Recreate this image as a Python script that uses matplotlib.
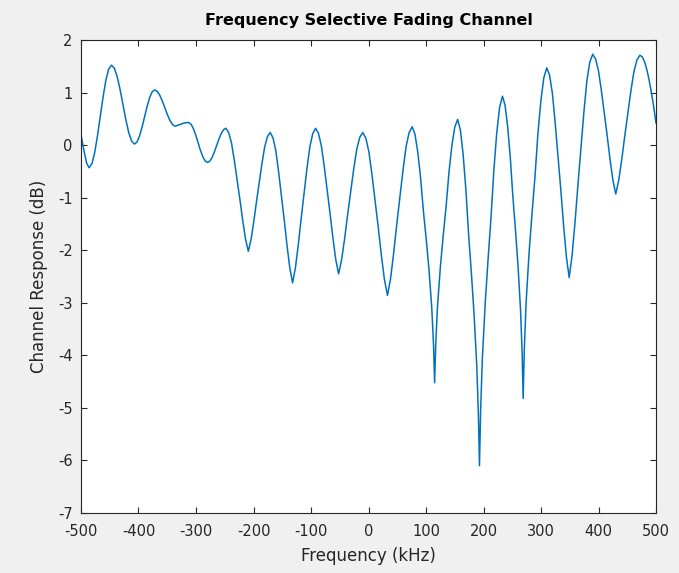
import matplotlib
matplotlib.use("Agg")
import matplotlib.pyplot as plt

freq_khz = [
    -500, -495, -490, -486,
    -481.1, -476.25, -471.4, -466.5, -461.6, -456.75, -451.9, -447,
    -442, -437, -432, -427, -422, -417, -412, -407,
    -402.6, -398.25, -393.9, -389.5, -385.1, -380.75, -376.4, -372,
    -367.5, -363, -358.5, -354, -349.5, -345, -340.5, -336,
    -330, -324.5, -319, -313,
    -308.9, -304.75, -300.6, -296.5, -292.4, -288.25, -284.1, -280,
    -276, -272, -268, -264, -260, -256, -252, -248,
    -243.1, -238.25, -233.4, -228.5, -223.6, -218.75, -213.9, -209,
    -204.25, -199.5, -194.75, -190, -185.25, -180.5, -175.75, -171,
    -166.1, -161.25, -156.4, -151.5, -146.6, -141.75, -136.9, -132,
    -127, -122, -117, -112, -107, -102, -97, -92,
    -87, -82, -77, -72, -67, -62, -57, -52,
    -46.75, -41.5, -36.25, -31, -25.75, -20.5, -15.25, -10,
    -4.6, 0.75, 6.1, 11.5, 16.9, 22.25, 27.6, 33,
    38.4, 43.75, 49.1, 54.5, 59.9, 65.25, 70.6, 76,
    80.9, 85.75, 90.6, 95.5, 100.4, 105.25, 110.1, 113.05, 115,
    117, 120, 125, 130, 135, 140, 145, 150, 155,
    159.75, 164.5, 169.25, 174, 178.75, 183.5, 188.25, 191.1, 193,
    195, 198, 203, 208, 213, 218, 223, 228, 233,
    237.5, 242, 246.5, 251, 255.5, 260, 264.5, 267.2, 269,
    271, 274.1, 279.25, 284.4, 289.5, 294.6, 299.75, 304.9, 310,
    314.9, 319.75, 324.6, 329.5, 334.4, 339.25, 344.1, 349,
    354.1, 359.25, 364.4, 369.5, 374.6, 379.75, 384.9, 390,
    395, 400, 405, 410, 415, 420, 425, 430,
    435.25, 440.5, 445.75, 451, 456.25, 461.5, 466.75, 472,
    476, 480, 484, 488, 492, 496, 500]
response_db = [
    0.2, -0.10, -0.35, -0.43,
    -0.356, -0.145, 0.173, 0.545, 0.917, 1.235, 1.446, 1.52,
    1.463, 1.301, 1.056, 0.77, 0.483, 0.239, 0.077, 0.02,
    0.059, 0.17, 0.338, 0.535, 0.732, 0.90, 1.011, 1.05,
    1.024, 0.949, 0.837, 0.705, 0.573, 0.461, 0.386, 0.36,
    0.385, 0.405, 0.425, 0.43,
    0.401, 0.319, 0.195, 0.05, -0.095, -0.219, -0.301, -0.33,
    -0.305, -0.235, -0.129, -0.005, 0.119, 0.225, 0.295, 0.32,
    0.238, 0.039, -0.288, -0.663, -1.037, -1.435, -1.786, -2.02,
    -1.794, -1.455, -1.071, -0.709, -0.348, -0.031, 0.161, 0.24,
    0.14, -0.103, -0.504, -0.961, -1.419, -1.905, -2.334, -2.62,
    -2.326, -1.885, -1.385, -0.915, -0.444, -0.033, 0.217, 0.32,
    0.223, -0.012, -0.40, -0.843, -1.287, -1.758, -2.173, -2.45,
    -2.181, -1.777, -1.32, -0.89, -0.459, -0.083, 0.146, 0.24,
    0.131, -0.132, -0.566, -1.062, -1.558, -2.085, -2.55, -2.86,
    -2.539, -2.057, -1.512, -0.998, -0.485, -0.035, 0.238, 0.35,
    0.204, -0.137, -0.624, -1.257, -1.793, -2.377, -3.108, -3.79, -4.52,
    -3.768, -3.067, -2.316, -1.714, -1.163, -0.512, -0.011, 0.34, 0.49,
    0.292, -0.169, -0.828, -1.685, -2.41, -3.20, -4.189, -5.11, -6.1,
    -5.045, -4.061, -3.007, -2.163, -1.39, -0.476, 0.227, 0.719, 0.93,
    0.757, 0.355, -0.22, -0.968, -1.60, -2.29, -3.153, -3.958, -4.82,
    -3.876, -2.996, -2.052, -1.298, -0.606, 0.212, 0.841, 1.281, 1.47,
    1.33, 0.991, 0.433, -0.206, -0.844, -1.523, -2.121, -2.52,
    -2.095, -1.457, -0.735, -0.055, 0.625, 1.22, 1.581, 1.73,
    1.637, 1.411, 1.038, 0.613, 0.187, -0.265, -0.664, -0.93,
    -0.666, -0.27, 0.179, 0.601, 1.024, 1.393, 1.618, 1.71,
    1.68, 1.59, 1.44, 1.24, 1.00, 0.73, 0.42]

x_ticks = [-500, -400, -300, -200, -100, 0, 100, 200, 300, 400, 500]
y_ticks = [-7, -6, -5, -4, -3, -2, -1, 0, 1, 2]

plt.rcParams['font.family'] = ['DejaVu Sans']
fig = plt.figure(figsize=(6.79, 5.73), dpi=100, facecolor='#f0f0f0')
ax = fig.add_axes([81/679, 60/573, 575/679, 473/573])
ax.set_facecolor('white')
ax.plot(freq_khz, response_db, color='#0072BD', linewidth=1.1)

ax.set_xlim(-500, 500)
ax.set_ylim(-7, 2)
ax.set_xticks(x_ticks)
ax.set_yticks(y_ticks)
ax.set_xticklabels([str(v) for v in x_ticks])
ax.set_yticklabels([str(v) for v in y_ticks])
ax.tick_params(direction='in', top=True, right=True, length=4, width=0.8,
               colors='#262626', labelsize=10.5)
ax.tick_params(axis='x', pad=8)
ax.tick_params(axis='y', pad=6)
for s in ax.spines.values():
    s.set_color('#262626')
    s.set_linewidth(0.8)

ax.set_xlabel('Frequency (kHz)', fontsize=12, color='#262626', labelpad=6)
ax.set_ylabel('Channel Response (dB)', fontsize=12, color='#262626', labelpad=7)
ax.set_title('Frequency Selective Fading Channel', fontsize=11.5,
             fontweight='bold', color='black', pad=11)

fig.savefig('out.png', dpi=100, facecolor=fig.get_facecolor())
